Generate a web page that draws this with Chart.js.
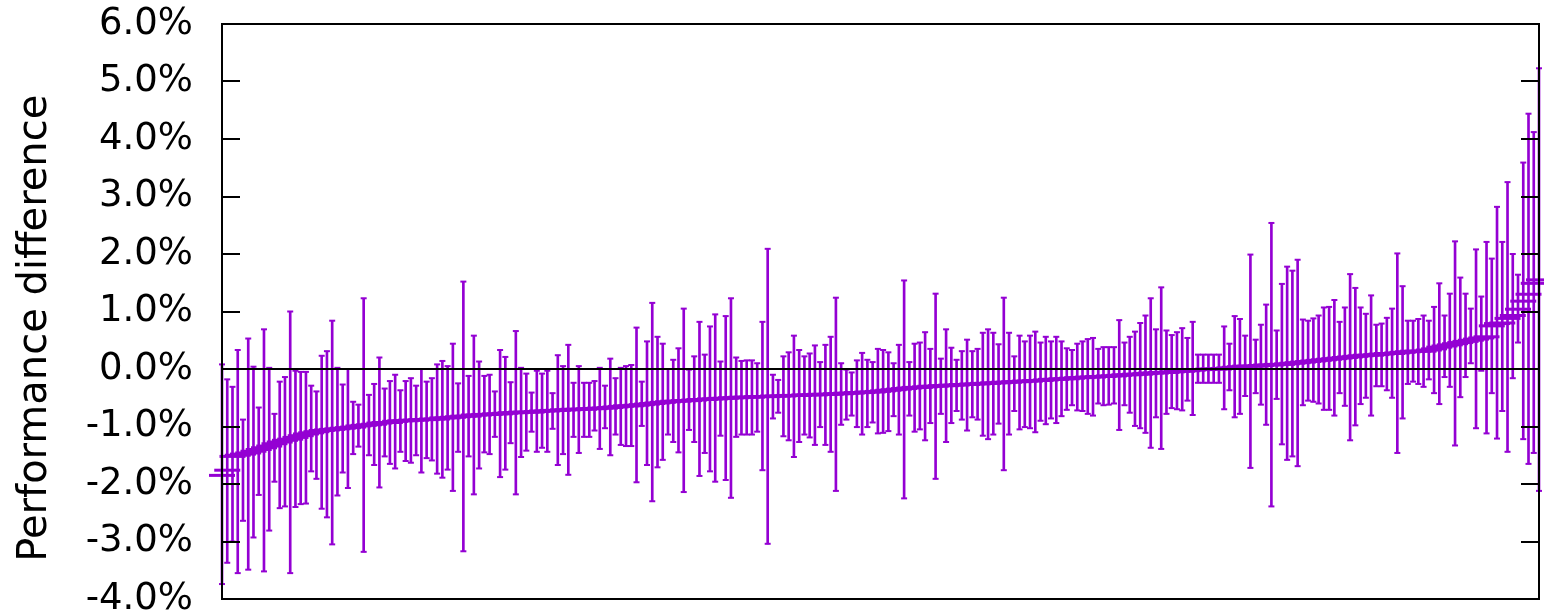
<!DOCTYPE html>
<html>
<head>
<meta charset="utf-8">
<script src="https://cdn.jsdelivr.net/npm/chart.js@4/dist/chart.umd.min.js"></script>
<style>
body{margin:0;background:#fff;}
</style>
</head>
<body>
<canvas id="chart" width="1544" height="615"></canvas>
<script>

// performance difference (%) per run, sorted
const center = [
-1.85,-1.76,-1.52,-1.50,-1.48,-1.46,-1.43,-1.40,-1.37,-1.34,-1.30,-1.27,-1.24,-1.22,-1.19,-1.16,-1.13,-1.11,-1.09,-1.07,-1.06,-1.05,-1.04,
-1.03,-1.02,-1.01,-0.99,-0.98,-0.97,-0.96,-0.94,-0.93,-0.93,-0.91,-0.90,-0.90,-0.89,-0.89,-0.88,-0.88,-0.87,-0.87,-0.85,-0.85,-0.84,-0.83,-0.82,-0.82,-0.80,
-0.80,-0.79,-0.79,-0.78,-0.78,-0.77,-0.76,-0.76,-0.75,-0.75,-0.75,-0.74,-0.73,-0.73,-0.72,-0.72,-0.71,-0.71,-0.70,-0.70,-0.70,-0.69,-0.69,-0.68,-0.68,-0.67,
-0.66,-0.65,-0.64,-0.64,-0.63,-0.62,-0.61,-0.60,-0.59,-0.58,-0.57,-0.56,-0.56,-0.55,-0.55,-0.54,-0.53,-0.53,-0.52,-0.52,-0.51,-0.51,-0.50,-0.50,-0.49,
-0.49,-0.49,-0.48,-0.48,-0.48,-0.47,-0.47,-0.47,-0.46,-0.46,-0.46,-0.45,-0.45,-0.45,-0.44,-0.44,-0.44,-0.43,-0.43,-0.42,-0.42,-0.41,-0.41,-0.40,-0.40,-0.39,
-0.38,-0.37,-0.36,-0.35,-0.34,-0.33,-0.32,-0.32,-0.31,-0.30,-0.30,-0.29,-0.29,-0.28,-0.28,-0.27,-0.27,-0.26,-0.26,-0.25,-0.25,-0.24,-0.24,-0.23,-0.23,-0.22,
-0.22,-0.21,-0.21,-0.20,-0.20,-0.19,-0.18,-0.18,-0.17,-0.17,-0.16,-0.15,-0.15,-0.14,-0.14,-0.13,-0.13,-0.12,-0.12,-0.11,-0.10,-0.10,-0.09,-0.09,-0.08,
-0.07,-0.07,-0.06,-0.06,-0.05,-0.04,-0.04,-0.03,-0.02,-0.01,-0.01,0.00,0.00,0.00,0.01,0.02,0.03,0.04,0.05,0.05,0.05,0.06,0.07,0.07,0.08,0.08,
0.09,0.10,0.11,0.12,0.13,0.14,0.15,0.16,0.17,0.18,0.19,0.20,0.21,0.22,0.23,0.24,0.24,0.25,0.26,0.27,0.27,0.28,0.29,0.30,0.31,
0.31,0.31,0.33,0.35,0.38,0.40,0.42,0.44,0.46,0.48,0.50,0.52,0.54,0.56,0.75,0.79,0.80,0.88,0.93,1.04,1.18,1.30,1.49,1.55
];

// top of error bar (%)
const upper = [
0.08,-0.18,-0.31,0.33,-0.88,0.53,0.04,-0.67,0.69,0.02,-0.78,-0.22,-0.14,1.00,-0.03,-0.05,-0.05,-0.29,-0.39,0.23,0.31,0.84,0.02,
-0.27,0.00,-0.57,-0.62,1.23,-0.45,-0.26,0.20,-0.34,-0.21,-0.10,-0.37,-0.21,-0.16,-0.29,0.00,-0.22,-0.16,0.08,0.14,0.05,0.44,-0.25,1.52,-0.12,0.58,
0.13,-0.12,-0.10,-0.39,0.33,0.21,-0.23,0.66,0.02,-0.08,-0.41,-0.03,-0.08,-0.03,-0.42,0.24,0.05,0.42,-0.24,0.05,-0.24,-0.24,-0.21,0.02,-0.29,0.18,
-0.16,0.02,0.05,0.07,0.72,-0.22,0.48,1.15,0.56,0.44,0.00,0.16,0.36,1.05,-0.01,0.22,0.82,0.25,0.74,0.95,0.13,0.92,1.23,0.20,0.14,
0.15,0.15,0.10,0.82,2.09,-0.10,-0.19,0.22,0.29,0.58,0.33,0.22,0.27,0.41,0.12,0.42,0.56,1.24,0.10,-0.01,-0.06,0.15,0.28,0.16,0.12,0.35,
0.33,0.29,0.10,0.42,1.54,0.12,0.44,0.46,0.64,0.35,1.31,0.18,0.69,0.37,0.16,0.31,0.51,0.31,0.35,0.63,0.69,0.63,0.43,1.24,0.63,0.22,
0.58,0.48,0.58,0.65,0.46,0.56,0.48,0.56,0.48,0.36,0.33,0.44,0.48,0.52,0.54,0.35,0.38,0.38,0.38,0.85,0.46,0.56,0.65,0.80,0.93,
1.23,0.69,1.42,0.67,0.59,0.64,0.71,0.54,0.82,0.25,0.25,0.25,0.25,0.25,0.74,0.44,0.92,0.87,0.58,1.99,0.51,0.77,1.12,2.54,0.67,1.48,
1.78,1.71,1.90,0.86,0.84,0.88,0.93,1.07,1.08,1.20,0.82,1.07,1.65,1.41,1.07,0.96,1.28,0.77,0.79,0.89,1.05,2.01,1.44,0.84,0.84,
0.87,0.93,0.84,1.08,1.49,0.93,1.31,2.22,1.59,1.31,1.05,2.08,1.26,2.21,1.92,2.82,2.21,3.25,2.00,1.64,3.59,4.44,4.12,5.23
];

// bottom of error bar (%)
const lower = [
-3.74,-3.37,-3.00,-3.55,-2.64,-3.49,-2.93,-2.19,-3.52,-2.81,-1.96,-2.42,-2.39,-3.55,-2.40,-2.35,-2.34,-1.78,-1.91,-2.43,-2.58,-3.05,-2.20,
-1.80,-2.07,-1.48,-1.35,-3.18,-1.50,-1.67,-2.06,-1.52,-1.65,-1.73,-1.44,-1.60,-1.63,-1.50,-1.80,-1.55,-1.59,-1.82,-1.89,-1.75,-2.12,-1.44,-3.17,-1.52,-2.18,
-1.73,-1.45,-1.48,-1.18,-1.88,-1.75,-1.29,-2.18,-1.53,-1.42,-1.09,-1.44,-1.37,-1.44,-1.04,-1.67,-1.48,-1.84,-1.18,-1.46,-1.18,-1.18,-1.07,-1.39,-1.03,-1.50,
-1.14,-1.32,-1.34,-1.34,-1.97,-0.99,-1.67,-2.30,-1.71,-1.58,-1.14,-1.27,-1.45,-2.14,-1.06,-1.27,-1.86,-1.46,-1.78,-1.96,-1.16,-1.93,-2.24,-1.18,-1.14,
-1.14,-1.14,-1.09,-1.76,-3.04,-0.86,-0.76,-1.17,-1.24,-1.53,-1.27,-1.14,-1.19,-1.32,-1.01,-1.32,-1.44,-2.12,-0.97,-0.88,-0.81,-1.01,-1.14,-1.01,-0.93,-1.12,
-1.11,-1.08,-0.82,-1.14,-2.25,-0.81,-1.09,-1.05,-1.24,-0.94,-1.91,-0.78,-1.27,-0.94,-0.73,-0.88,-1.07,-0.84,-0.88,-1.16,-1.22,-1.14,-0.95,-1.76,-1.14,-0.73,
-1.05,-1.01,-1.03,-1.10,-0.90,-0.96,-0.86,-0.94,-0.82,-0.71,-0.63,-0.72,-0.73,-0.78,-0.81,-0.60,-0.63,-0.62,-0.60,-1.06,-0.63,-0.76,-0.99,-1.03,-1.11,
-1.37,-0.84,-1.39,-0.78,-0.68,-0.70,-0.72,-0.55,-0.80,-0.24,-0.24,-0.24,-0.24,-0.24,-0.70,-0.37,-0.84,-0.78,-0.47,-1.72,-0.42,-0.62,-0.97,-2.39,-0.52,-1.31,
-1.58,-1.52,-1.69,-0.63,-0.55,-0.57,-0.60,-0.71,-0.71,-0.81,-0.42,-0.64,-1.24,-0.98,-0.61,-0.50,-0.81,-0.30,-0.30,-0.37,-0.50,-1.46,-0.86,-0.26,-0.22,
-0.26,-0.31,-0.18,-0.42,-0.61,-0.14,-0.31,-1.33,-0.49,-0.14,0.10,-1.03,-0.03,-1.12,-0.42,-1.21,-0.73,-1.44,-0.16,0.46,-1.22,-1.65,-1.46,-2.12
];

const yTicks = [-4,-3,-2,-1,0,1,2,3,4,5,6];

const purple = "#9400d3";

const bars = center.map((v,i) => ({x:i, y:[lower[i], upper[i]]}));
const mids = center.map((v,i) => ({x:i, y:v}));
const tops = upper.map((v,i) => ({x:i, y:v}));
const bottoms = lower.map((v,i) => ({x:i, y:v}));

function noPad(s){
s.paddingTop = 0;
s.paddingBottom = 0;
s.paddingLeft = 0;
s.paddingRight = 0;
}

const ctx =
document
.getElementById("chart");

const chart =
new Chart(ctx,{
type:"bar",
data:{
datasets:[
{
type:"scatter",
data:mids,
pointStyle:"line",
pointRadius:13,
borderWidth:3,
borderColor:purple,
backgroundColor:purple,
clip:false,
order:1
},
{
type:"scatter",
data:tops,
pointStyle:"line",
pointRadius:3,
borderWidth:2,
borderColor:purple,
clip:false,
order:2
},
{
type:"scatter",
data:bottoms,
pointStyle:"line",
pointRadius:3,
borderWidth:2,
borderColor:purple,
clip:false,
order:2
},
{
data:bars,
backgroundColor:purple,
borderWidth:0,
barThickness:2,
clip:false,
order:3
}
]
},
options:{
responsive:false,
animation:false,
events:[],
layout:{autoPadding:false,padding:{left:0,right:5,top:24,bottom:16}},
plugins:{legend:{display:false},tooltip:{enabled:false}},
scales:{
x:{
type:"linear",
position:"bottom",
offset:false,
min:0,
max:center.length-1,
ticks:{display:false},
grid:{display:false,drawTicks:false},
border:{display:true,color:"#000",width:2,z:1},
afterFit:s => { s.height = 0; noPad(s); }
},
x2:{
type:"linear",
position:"top",
offset:false,
min:0,
max:center.length-1,
ticks:{display:false},
grid:{display:false,drawTicks:false},
border:{display:true,color:"#000",width:2,z:1},
afterFit:s => { s.height = 0; noPad(s); }
},
y:{
min:-4,
max:6,
afterBuildTicks:s => { s.ticks = yTicks.map(v => ({value:v})); },
ticks:{
autoSkip:false,
padding:47,
color:"#000",
font:{family:"DejaVu Sans",size:37},
callback:v => v.toFixed(1) + "%"
},
grid:{
z:1,
lineWidth:2,
tickLength:-18,
tickColor:"#000",
color:c => c.tick && c.tick.value === 0 ? "#000" : "rgba(0,0,0,0)"
},
border:{display:true,color:"#000",width:2,z:1},
title:{
display:true,
text:"Performance difference  \u2009",
color:"#000",
font:{family:"DejaVu Sans",size:40,weight:"normal"},
padding:{top:12,bottom:0}
},
afterFit:s => { s.width = 222; noPad(s); }
},
y2:{
position:"right",
min:-4,
max:6,
afterBuildTicks:s => { s.ticks = yTicks.map(v => ({value:v})); },
ticks:{display:false},
grid:{
z:1,
drawOnChartArea:false,
lineWidth:2,
tickLength:-18,
tickColor:"#000"
},
border:{display:true,color:"#000",width:2,z:1},
afterFit:s => { s.width = 0; noPad(s); }
}
}
}
});

</script>
</body>
</html>
